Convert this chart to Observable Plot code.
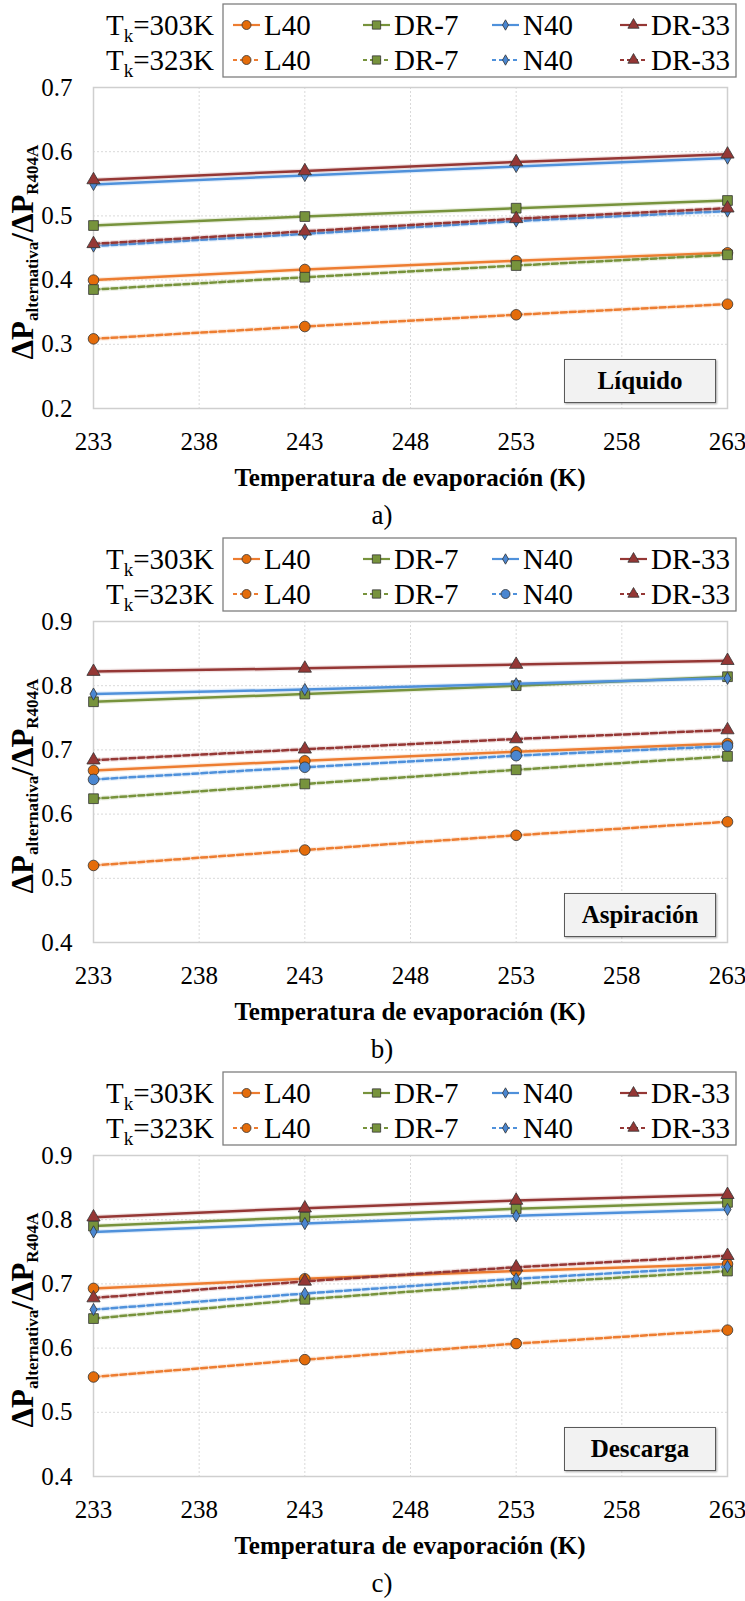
<!DOCTYPE html>
<html><head><meta charset="utf-8">
<script src="https://cdn.jsdelivr.net/npm/d3@7"></script>
<script src="https://cdn.jsdelivr.net/npm/@observablehq/plot@0.6"></script>
<style>
body{margin:0;background:#fff;}
#root{position:relative;width:745px;height:1601px;font-family:"Liberation Serif","Times New Roman",serif;color:#000;overflow:hidden;background:#fff;}
.ylab{position:absolute;white-space:nowrap;font-weight:bold;font-size:31px;transform:translate(-50%,-50%) rotate(-90deg);line-height:1;}
.ylab sub{font-size:17px;vertical-align:-0.3em;}
.xtitle{position:absolute;font-weight:bold;font-size:25px;transform:translate(-50%,-50%);white-space:nowrap;line-height:1;}
.cap{position:absolute;font-size:27px;transform:translate(-50%,-50%);line-height:1;}
.tag{position:absolute;box-sizing:border-box;background:#f2f2f2;border:1.5px solid #595959;font-weight:bold;font-size:25px;display:flex;align-items:center;justify-content:center;box-shadow:1px 1px 2px rgba(0,0,0,0.35);}
.plotbox{position:absolute;left:0;}
</style></head><body><div id="root"></div>
<script>
// ---------------- data ----------------
const temps = [233, 243, 253, 263];
const seriesNames = ["L40", "DR-7", "N40", "DR-33"];
const tkLabels = ["303", "323"];
const xTicks = [233, 238, 243, 248, 253, 258, 263];
const yTicksA = [0.2, 0.3, 0.4, 0.5, 0.6, 0.7];
const yTicksBC = [0.4, 0.5, 0.6, 0.7, 0.8, 0.9];
const panelNames = ["Líquido", "Aspiración", "Descarga"];
const panelCaptions = ["a)", "b)", "c)"];

// a) Líquido
const liq303_L40  = [0.400, 0.4165, 0.430, 0.4425];
const liq303_DR7  = [0.485, 0.499, 0.512, 0.524];
const liq303_N40  = [0.549, 0.563, 0.577, 0.590];
const liq303_DR33 = [0.556, 0.570, 0.584, 0.596];
const liq323_L40  = [0.3085, 0.3277, 0.346, 0.3625];
const liq323_DR7  = [0.3853, 0.4045, 0.4227, 0.4394];
const liq323_N40  = [0.453, 0.472, 0.492, 0.5075];
const liq323_DR33 = [0.4565, 0.476, 0.4955, 0.512];

// b) Aspiración
const asp303_L40  = [0.668, 0.683, 0.697, 0.710];
const asp303_DR7  = [0.775, 0.787, 0.800, 0.814];
const asp303_N40  = [0.787, 0.794, 0.803, 0.8115];
const asp303_DR33 = [0.822, 0.827, 0.833, 0.839];
const asp323_L40  = [0.520, 0.544, 0.567, 0.588];
const asp323_DR7  = [0.624, 0.647, 0.669, 0.690];
const asp323_N40  = [0.654, 0.673, 0.691, 0.706];
const asp323_DR33 = [0.684, 0.701, 0.717, 0.731];

// c) Descarga
const des303_L40  = [0.693, 0.708, 0.720, 0.731];
const des303_DR7  = [0.790, 0.804, 0.817, 0.827];
const des303_N40  = [0.781, 0.794, 0.806, 0.816];
const des303_DR33 = [0.804, 0.818, 0.830, 0.839];
const des323_L40  = [0.555, 0.582, 0.607, 0.628];
const des323_DR7  = [0.646, 0.676, 0.700, 0.720];
const des323_N40  = [0.660, 0.685, 0.708, 0.727];
const des323_DR33 = [0.678, 0.704, 0.726, 0.744];

const panelValues = [
  [[liq303_L40, liq303_DR7, liq303_N40, liq303_DR33], [liq323_L40, liq323_DR7, liq323_N40, liq323_DR33]],
  [[asp303_L40, asp303_DR7, asp303_N40, asp303_DR33], [asp323_L40, asp323_DR7, asp323_N40, asp323_DR33]],
  [[des303_L40, des303_DR7, des303_N40, des303_DR33], [des323_L40, des323_DR7, des323_N40, des323_DR33]]
];
const panelYDomains = [[0.2, 0.7], [0.4, 0.9], [0.4, 0.9]];
const panelYTicks = [yTicksA, yTicksBC, yTicksBC];

// ---------------- styles ----------------
const style = {
  "L40":   {line: "#ED7D31", fill: "#E46C0A", symbol: "circle",   r: 5.3},
  "DR-7":  {line: "#77933C", fill: "#77933C", symbol: "square",   r: 5.5},
  "N40":   {line: "#4F91DB", fill: "#4A86D0", symbol: "diamond",  r: 3.7},
  "DR-33": {line: "#953735", fill: "#953735", symbol: "triangle", r: 4.9}
};
// panel b uses circles for the dashed N40 series
function symbolFor(p, tkIdx, name) {
  if (p === 1 && tkIdx === 1 && name === "N40") return "circle";
  return style[name].symbol;
}
function rFor(p, tkIdx, name) {
  if (p === 1 && tkIdx === 1 && name === "N40") return 5.3;
  return style[name].r;
}
const d3sym = {circle: d3.symbolCircle, square: d3.symbolSquare, diamond: d3.symbolDiamond, triangle: d3.symbolTriangle};

const root = document.getElementById("root");
const plotTop0 = 87, step = 534, plotH = 321;
const mL = 93, mR = 18, W = 745;

panelNames.forEach((pname, p) => {
  const top = plotTop0 + step * p;

  // legend
  const lg = d3.create("svg").attr("width", W).attr("height", 84)
    .style("position", "absolute").style("left", "0px").style("top", (top - 87) + "px")
    .style("font-family", '"Liberation Serif","Times New Roman",serif');
  lg.append("rect").attr("x", 223).attr("y", 4).attr("width", 513).attr("height", 73)
    .attr("fill", "none").attr("stroke", "#7f7f7f").attr("stroke-width", 1.3);
  const rowsY = [25, 60];
  const entryX = [233, 363, 492, 620];
  tkLabels.forEach((tk, ti) => {
    const cy = rowsY[ti];
    const t = lg.append("text").attr("x", 214).attr("y", cy + 10).attr("text-anchor", "end").attr("font-size", 29);
    t.append("tspan").text("T");
    t.append("tspan").attr("font-size", 19).attr("dy", 7).text("k");
    t.append("tspan").attr("dy", -7).text("=" + tk + "K");
    seriesNames.forEach((name, si) => {
      const x0 = entryX[si];
      const st = style[name];
      lg.append("line").attr("x1", x0).attr("x2", x0 + 27).attr("y1", cy).attr("y2", cy)
        .attr("stroke", st.line).attr("stroke-width", 2.2)
        .attr("stroke-dasharray", ti === 1 ? "4,3" : null);
      const sym = symbolFor(p, ti, name), rr = rFor(p, ti, name) * 0.85;
      lg.append("path").attr("transform", `translate(${x0 + 13.5},${cy})`)
        .attr("d", d3.symbol().type(d3sym[sym]).size(Math.PI * rr * rr)())
        .attr("fill", st.fill).attr("stroke", "#333").attr("stroke-width", 0.8);
      lg.append("text").attr("x", x0 + 31).attr("y", cy + 10).attr("font-size", 29).text(name);
    });
  });
  root.appendChild(lg.node());

  // chart
  const marks = [
    Plot.gridX(xTicks.slice(1, -1), {stroke: "#d9d9d9", strokeOpacity: 1, strokeDasharray: "2,2"}),
    Plot.gridY(panelYTicks[p].slice(1, -1), {stroke: "#d9d9d9", strokeOpacity: 1, strokeDasharray: "2,2"}),
    Plot.frame({stroke: "#cfcfcf", strokeWidth: 1.5}),
    Plot.axisX({ticks: xTicks, tickSize: 0, tickPadding: 24, tickFormat: d => String(d), label: null}),
    Plot.axisY({ticks: panelYTicks[p], tickSize: 0, tickPadding: 21, tickFormat: d => d.toFixed(1), label: null})
  ];
  tkLabels.forEach((tk, ti) => {
    seriesNames.forEach((name, si) => {
      const vals = panelValues[p][ti][si];
      const rows = temps.map((t, i) => ({t, v: vals[i]}));
      const st = style[name];
      // soft halo like the original's line effect
      marks.push(Plot.line(rows, {x: "t", y: "v", stroke: st.line, strokeWidth: 5, strokeOpacity: 0.15,
        strokeDasharray: ti === 1 ? "6,3" : undefined}));
      marks.push(Plot.line(rows, {x: "t", y: "v", stroke: st.line, strokeWidth: 2.5,
        strokeDasharray: ti === 1 ? "6,3" : undefined}));
      marks.push(Plot.dot(rows, {x: "t", y: "v", symbol: symbolFor(p, ti, name), r: rFor(p, ti, name),
        fill: st.fill, stroke: "#333", strokeWidth: 0.8}));
    });
  });
  const chart = Plot.plot({
    width: W, height: 10 + plotH + 60,
    marginTop: 10, marginBottom: 60, marginLeft: mL, marginRight: mR,
    style: {fontFamily: '"Liberation Serif","Times New Roman",serif', fontSize: "25px", background: "transparent", color: "#000", overflow: "visible"},
    x: {domain: [233, 263]},
    y: {domain: panelYDomains[p]},
    marks
  });
  chart.classList.add("plotbox");
  chart.style.top = (top - 10) + "px";
  root.appendChild(chart);

  // panel tag
  const tag = document.createElement("div");
  tag.className = "tag";
  tag.style.left = "564px"; tag.style.top = (top + 272) + "px";
  tag.style.width = "152px"; tag.style.height = "44px";
  tag.textContent = pname;
  root.appendChild(tag);

  // y label
  const yl = document.createElement("div");
  yl.className = "ylab";
  yl.style.left = "24px"; yl.style.top = (top + 165) + "px";
  yl.innerHTML = "ΔP<sub>alternativa</sub>/ΔP<sub>R404A</sub>";
  root.appendChild(yl);

  // x title
  const xt = document.createElement("div");
  xt.className = "xtitle";
  xt.style.left = "410px"; xt.style.top = (top + 390) + "px";
  xt.textContent = "Temperatura de evaporación (K)";
  root.appendChild(xt);

  // caption
  const cp = document.createElement("div");
  cp.className = "cap";
  cp.style.left = "382px"; cp.style.top = (top + 428) + "px";
  cp.textContent = panelCaptions[p];
  root.appendChild(cp);
});
</script></body></html>
